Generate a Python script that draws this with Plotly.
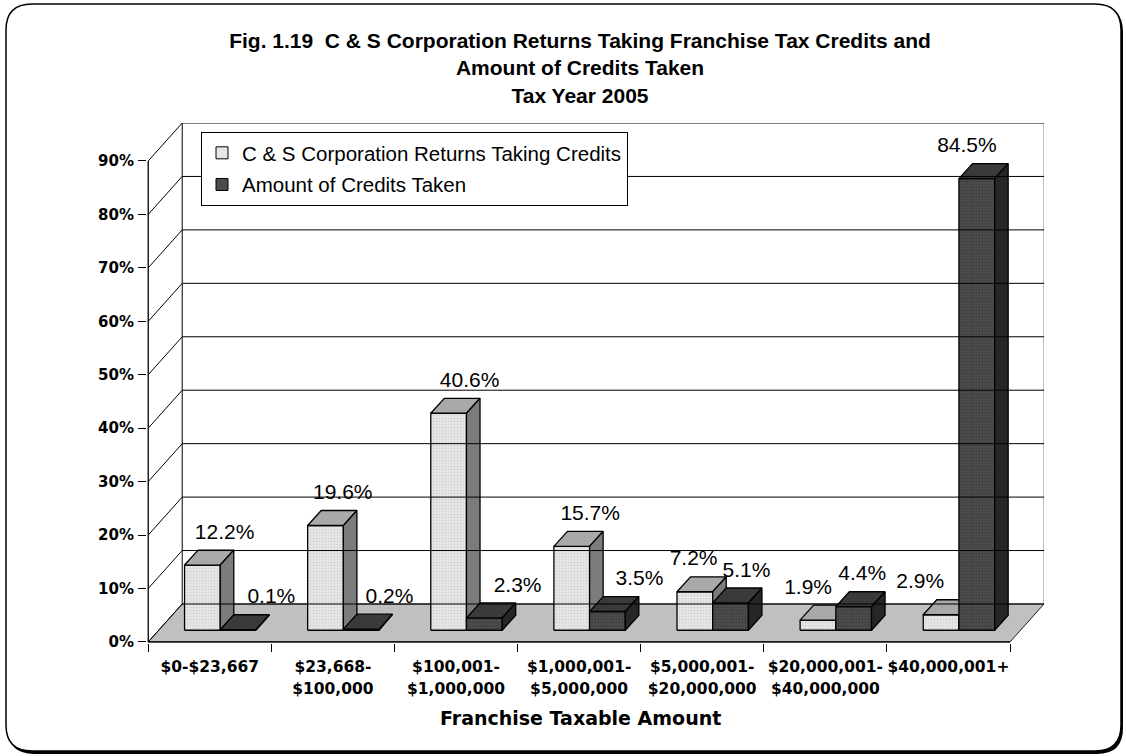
import plotly.graph_objects as go

# ---------------- data ----------------
categories_line1 = ["$0-$23,667", "$23,668-", "$100,001-", "$1,000,001-",
                    "$5,000,001-", "$20,000,001-", "$40,000,001+"]
categories_line2 = ["", "$100,000", "$1,000,000", "$5,000,000",
                    "$20,000,000", "$40,000,000", ""]
returns_pct = [12.2, 19.6, 40.6, 15.7, 7.2, 1.9, 2.9]
credits_pct = [0.1, 0.2, 2.3, 3.5, 5.1, 4.4, 84.5]
series_names = ["C & S Corporation Returns Taking Credits", "Amount of Credits Taken"]
y_tick_values = [0, 10, 20, 30, 40, 50, 60, 70, 80, 90]
y_tick_labels = ["0%", "10%", "20%", "30%", "40%", "50%", "60%", "70%", "80%", "90%"]
title_lines = ["Fig. 1.19  C & S Corporation Returns Taking Franchise Tax Credits and",
               "Amount of Credits Taken", "Tax Year 2005"]
x_axis_title = "Franchise Taxable Amount"

# horizontal nudges of the value labels (category units), as placed in the original
returns_label_nudge = [0.18, 0.14, 0.17, 0.15, -0.01, -0.08, -0.17]
credits_label_nudge = [0.27, 0.23, 0.27, 0.26, 0.13, 0.07, -0.08]

# ---------------- geometry (3-D look) ----------------
N = len(categories_line1)
Y_MAX = y_tick_values[-1]
WALL_DX, WALL_DY = 0.276, 7.1      # depth of the chart box
BAR_W = 0.29                       # width of one bar (category units)
BAR_OX, BAR_OY = 0.085, 2.19       # bars sit part-way back in the box
BAR_DX, BAR_DY = 0.11, 2.8         # depth of each bar
LABEL_DY = 5.9                     # label height above bar top (percent units)

ML, MR, MT, MB = 147, 82, 123, 113
W, H = 1126, 756
PW, PH = W - ML - MR, H - MT - MB

TXT = "Liberation Sans, Arial, sans-serif"
WIDE = "DejaVu Sans, Verdana, sans-serif"

fig = go.Figure()

# back wall + left wall grid lines
gx, gy = [], []
for v in y_tick_values:
    gx += [0, WALL_DX, N + WALL_DX, None]
    gy += [v, v + WALL_DY, v + WALL_DY, None]
gx += [WALL_DX, WALL_DX, None]
gy += [WALL_DY, Y_MAX + WALL_DY, None]
fig.add_trace(go.Scatter(x=gx, y=gy, mode="lines", xaxis="x2",
                         line=dict(color="black", width=1),
                         hoverinfo="skip", showlegend=False))
fig.add_trace(go.Scatter(x=[N + WALL_DX, N + WALL_DX], y=[WALL_DY, Y_MAX + WALL_DY],
                         mode="lines", line=dict(color="#808080", width=1),
                         hoverinfo="skip", showlegend=False))

# floor
fig.add_trace(go.Scatter(x=[0, N, N + WALL_DX, WALL_DX, 0],
                         y=[0, 0, WALL_DY, WALL_DY, 0],
                         mode="lines", fill="toself", fillcolor="#c0c0c0",
                         line=dict(color="#202020", width=1),
                         hoverinfo="skip", showlegend=False))

# front axis lines
fig.add_trace(go.Scatter(x=[0, 0, None, 0, N], y=[Y_MAX, 0, None, 0, 0], mode="lines",
                         line=dict(color="black", width=1.3),
                         hoverinfo="skip", showlegend=False))


def faces(values, shift):
    fr_x, fr_y, tp_x, tp_y, sd_x, sd_y = [], [], [], [], [], []
    for i, v in enumerate(values):
        x0 = i + 0.5 + shift + BAR_OX
        x1 = x0 + BAR_W
        b = BAR_OY
        t = BAR_OY + v
        fr_x += [x0, x1, x1, x0, x0, None]
        fr_y += [b, b, t, t, b, None]
        tp_x += [x0, x1, x1 + BAR_DX, x0 + BAR_DX, x0, None]
        tp_y += [t, t, t + BAR_DY, t + BAR_DY, t, None]
        sd_x += [x1, x1 + BAR_DX, x1 + BAR_DX, x1, x1, None]
        sd_y += [b, b + BAR_DY, t + BAR_DY, t, b, None]
    return (fr_x, fr_y), (tp_x, tp_y), (sd_x, sd_y)


styles = [
    (returns_pct, -BAR_W, ["#e6e6e6", "#a9a9a9", "#7c7c7c"], "#b8b8b8", returns_label_nudge),
    (credits_pct, 0.0, ["#4b4b4b", "#3a3a3a", "#262626"], "#2a2a2a", credits_label_nudge),
]
for values, shift, cols, dotcol, _ in styles:
    for k, (fx, fy) in enumerate(faces(values, shift)):
        kw = {}
        if k == 0:
            kw["fillpattern"] = dict(shape=".", size=3, solidity=0.25, fgcolor=dotcol)
        fig.add_trace(go.Scatter(x=fx, y=fy, mode="lines", fill="toself",
                                 fillcolor=cols[k],
                                 line=dict(color="black", width=1.3),
                                 hoverinfo="skip", showlegend=False, **kw))

# data labels
for values, shift, _, _, nudge in styles:
    fig.add_trace(go.Scatter(
        x=[i + 0.5 + shift + BAR_OX + BAR_W / 2 + nudge[i] for i in range(N)],
        y=[v + BAR_OY + LABEL_DY for v in values],
        mode="text", text=[f"{v:.1f}%" for v in values],
        textfont=dict(family=TXT, size=21, color="black"),
        cliponaxis=False, hoverinfo="skip", showlegend=False))

# legend entries
for k, (name, col) in enumerate(zip(series_names, ["#e6e6e6", "#4b4b4b"])):
    fig.add_trace(go.Bar(x=[None], y=[None], name=name, legendgroup=f"g{k}",
                         marker=dict(color=col, line=dict(color="black", width=1))))


def P(px, py):
    return (px - ML) / PW, (H - MB - py) / PH


def rounded(x0, y0, x1, y1, r):
    pts = [("M", [(x0 + r, y0)]), ("L", [(x1 - r, y0)]), ("Q", [(x1, y0), (x1, y0 + r)]),
           ("L", [(x1, y1 - r)]), ("Q", [(x1, y1), (x1 - r, y1)]), ("L", [(x0 + r, y1)]),
           ("Q", [(x0, y1), (x0, y1 - r)]), ("L", [(x0, y0 + r)]),
           ("Q", [(x0, y0), (x0 + r, y0)])]
    s = ""
    for cmd, ps in pts:
        s += cmd + " ".join("%.5f,%.5f" % P(px, py) for px, py in ps) + " "
    return s + "Z"


shapes = [
    dict(type="path", xref="paper", yref="paper", path=rounded(8, 6, 1123, 754, 26),
         fillcolor="black", line=dict(width=0), layer="below"),
    dict(type="path", xref="paper", yref="paper", path=rounded(6, 4, 1121, 751, 26),
         fillcolor="white", line=dict(color="black", width=1.5), layer="below"),
]

axis_common = dict(showgrid=False, zeroline=False, showline=False)
tickfont = dict(family=WIDE, size=15.5, color="black", weight="bold")
fig.update_layout(
    width=W, height=H,
    margin=dict(l=ML, r=MR, t=MT, b=MB, autoexpand=False),
    paper_bgcolor="white", plot_bgcolor="rgba(0,0,0,0)",
    shapes=shapes,
    title=dict(text="<br>".join(title_lines), x=580 / W, xanchor="center",
               xref="container", y=1 - 48 / H, yanchor="top",
               font=dict(family=TXT, size=21, color="black", weight="bold")),
    xaxis=dict(range=[-0.01, N + WALL_DX], tickmode="array",
               tickvals=[i + 0.5 for i in range(N)], ticktext=categories_line1,
               ticks="", ticklabelstandoff=12, tickfont=tickfont,
               minor=dict(tickmode="array", tickvals=list(range(N + 1)), ticks="outside",
                          ticklen=8, tickcolor="black", tickwidth=1, showgrid=False),
               **axis_common),
    xaxis2=dict(range=[-0.01, N + WALL_DX], overlaying="x", anchor="y", side="bottom",
                tickmode="array", tickvals=[i + 0.5 for i in range(N)],
                ticktext=categories_line2, ticks="", ticklabelstandoff=34,
                tickfont=tickfont, **axis_common),
    yaxis=dict(range=[-0.2, Y_MAX + WALL_DY], tickmode="array",
               tickvals=y_tick_values, ticktext=y_tick_labels,
               ticks="outside", ticklen=8, tickcolor="black", tickwidth=1,
               ticklabelstandoff=1,
               tickfont=dict(family=WIDE, size=15, color="black", weight="bold"),
               **axis_common),
    legend=dict(x=(201 - ML) / PW, y=(H - MB - 132) / PH, xanchor="left", yanchor="top",
                bgcolor="white", bordercolor="black", borderwidth=1,
                font=dict(family=TXT, size=20.5, color="black"),
                traceorder="grouped", tracegroupgap=2),
    annotations=[dict(text=x_axis_title, xref="paper", yref="paper",
                      x=(580 - ML) / PW, y=(H - MB - 718) / PH,
                      xanchor="center", yanchor="middle", showarrow=False,
                      font=dict(family=WIDE, size=19, color="black", weight="bold"))],
    showlegend=True,
)

fig.write_html("out.html",
               config={"displayModeBar": False},
               post_script="document.body.style.margin='0';"
                           "document.body.style.overflow='hidden';")
